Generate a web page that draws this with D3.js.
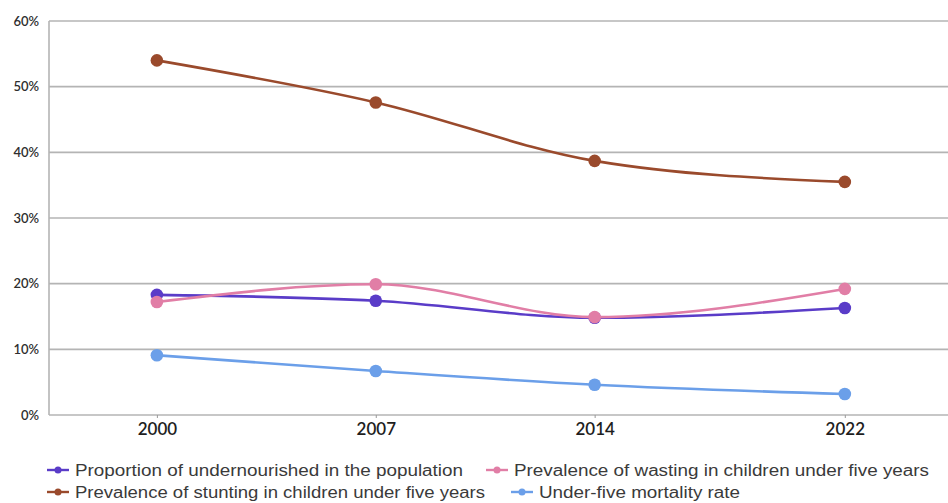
<!DOCTYPE html>
<html>
<head>
<meta charset="utf-8">
<script src="https://cdn.jsdelivr.net/npm/d3@7"></script>
<style>
  html, body { margin: 0; padding: 0; background: #fff; }
  svg { display: block; }
</style>
</head>
<body>
<svg id="chart" width="948" height="503"></svg>
<script>
// Survey years on the x axis
const years = [2000, 2007, 2014, 2022];
// Indicator values, in percent
const undernourished = [18.3, 17.4, 14.8, 16.3];
const wasting = [17.2, 19.9, 14.9, 19.2];
const stunting = [54.0, 47.6, 38.7, 35.5];
const mortality = [9.1, 6.7, 4.6, 3.2];
const yTicks = [0, 10, 20, 30, 40, 50, 60];

const seriesNames = [
  "Proportion of undernourished in the population",
  "Prevalence of wasting in children under five years",
  "Prevalence of stunting in children under five years",
  "Under-five mortality rate"
];
const seriesColors = ["#5a3cc8", "#e17ea6", "#9a4a2c", "#6b9fe9"];
const seriesValues = [undernourished, wasting, stunting, mortality];

const svg = d3.select("#chart");
const plotLeft = 49, plotRight = 948, plotTop = 21, plotBottom = 415;

const x = d3.scaleLinear().domain([1996.55, 2025.3]).range([plotLeft, plotRight]);
const y = d3.scaleLinear().domain([0, 60]).range([plotBottom, plotTop]);

// Horizontal gridlines
svg.append("g")
  .selectAll("line")
  .data(yTicks)
  .join("line")
  .attr("x1", plotLeft).attr("x2", plotRight)
  .attr("y1", d => y(d)).attr("y2", d => y(d))
  .attr("stroke", "#b4b4b4")
  .attr("stroke-width", 1.6);

// Left axis line
svg.append("line")
  .attr("x1", plotLeft).attr("x2", plotLeft)
  .attr("y1", y(60)).attr("y2", y(0))
  .attr("stroke", "#b4b4b4").attr("stroke-width", 1.6);

// Y axis
const yAxis = d3.axisLeft(y).tickValues(yTicks).tickFormat(d => d + "%").tickSize(0).tickPadding(10);
const gy = svg.append("g").attr("transform", `translate(${plotLeft},0)`).call(yAxis);
gy.select(".domain").remove();
gy.selectAll("text")
  .attr("font-family", "Lato, 'Open Sans', sans-serif")
  .attr("font-size", 13)
  .attr("font-weight", 600)
  .attr("fill", "#2e2e2e");

// X axis
const xAxis = d3.axisBottom(x).tickValues(years).tickFormat(d3.format("d")).tickSize(3).tickPadding(5);
const gx = svg.append("g").attr("transform", `translate(0,${plotBottom})`).call(xAxis);
gx.select(".domain").remove();
gx.selectAll(".tick line").attr("stroke", "#999");
gx.selectAll("text")
  .attr("font-family", "Lato, 'Open Sans', sans-serif")
  .attr("font-size", 17)
  .attr("font-weight", 600)
  .attr("fill", "#1e1e1e");

// Series lines and markers
const line = d3.line()
  .x((d, i) => x(years[i]))
  .y(d => y(d))
  .curve(d3.curveMonotoneX);

const order = [2, 0, 1, 3];
order.forEach(k => {
  const g = svg.append("g");
  g.append("path")
    .datum(seriesValues[k])
    .attr("d", line)
    .attr("fill", "none")
    .attr("stroke", seriesColors[k])
    .attr("stroke-width", 2.6);
  g.selectAll("circle")
    .data(seriesValues[k])
    .join("circle")
    .attr("cx", (d, i) => x(years[i]))
    .attr("cy", d => y(d))
    .attr("r", 6.3)
    .attr("fill", seriesColors[k]);
});

// Legend: two rows, each label stretched to its line width
const legendPos = [
  { lx: 47, ty: 476, w: 388 },
  { lx: 486, ty: 476, w: 415 },
  { lx: 47, ty: 498, w: 410 },
  { lx: 511, ty: 498, w: 201 }
];
seriesNames.forEach((name, k) => {
  const p = legendPos[k];
  const g = svg.append("g").attr("transform", `translate(${p.lx},${p.ty - 6})`);
  g.append("line")
    .attr("x1", 0).attr("x2", 22)
    .attr("y1", 0).attr("y2", 0)
    .attr("stroke", seriesColors[k]).attr("stroke-width", 2.4);
  g.append("circle").attr("cx", 11).attr("cy", 0).attr("r", 3.5).attr("fill", seriesColors[k]);
  g.append("text")
    .attr("x", 28).attr("y", 6)
    .attr("font-family", "'Liberation Sans', Arial, sans-serif")
    .attr("font-size", 16)
    .attr("textLength", p.w)
    .attr("lengthAdjust", "spacingAndGlyphs")
    .attr("fill", "#3a3a3a")
    .text(name);
});
</script>
</body>
</html>
